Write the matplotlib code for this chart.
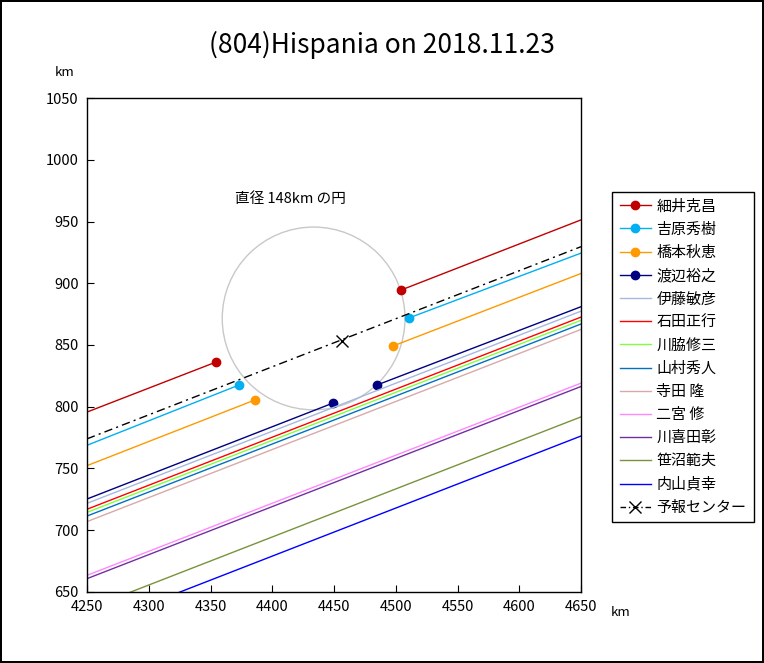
import numpy as np
import matplotlib
matplotlib.use('Agg')
import matplotlib.pyplot as plt
from matplotlib.lines import Line2D
from matplotlib.patches import Circle

plt.rcParams['font.family'] = ['Noto Sans CJK JP', 'DejaVu Sans']

# x range of the chord lines (km)
x_left, x_right = 4250, 4650

# observers with a chord: y at left/right edge, disappearance / reappearance points
chord_names = ['細井克昌', '吉原秀樹', '橋本秋恵', '渡辺裕之']
chord_colors = ['#C00000', '#00B0F0', '#FF9900', '#000080']
chord_y_left = [795.7, 768.8, 752.3, 725.3]
chord_y_right = [951.3, 924.4, 907.9, 881.0]
disap_x = [4354.5, 4373.1, 4386.0, 4449.2]
disap_y = [836.2, 817.6, 805.5, 803.0]
reap_x = [4504.3, 4510.7, 4497.8, 4484.8]
reap_y = [894.5, 871.9, 849.2, 817.6]

# observers with no occultation
miss_names = ['伊藤敏彦', '石田正行', '川脇修三', '山村秀人', '寺田 隆',
              '二宮 修', '川喜田彰', '笹沼範夫', '内山貞幸']
miss_colors = ['#A6B8E0', '#FF0000', '#80FF40', '#0070C0', '#D9A9A9',
               '#FF88FF', '#7030A0', '#77933C', '#0000FF']
miss_y_left = [721.8, 717.0, 714.5, 711.5, 707.0, 663.5, 660.8, 636.2, 620.7]
miss_y_right = [877.4, 872.6, 870.0, 867.0, 862.6, 819.1, 816.4, 791.8, 776.3]

# prediction center line and asteroid outline
center_y_left, center_y_right = 774.0, 929.6
center_x, center_y = 4456.5, 853.5
circle_x, circle_y, diameter = 4433.5, 871.5, 148


def main():
    fig = plt.figure(figsize=(7.64, 6.63), dpi=100)
    fig.patch.set_edgecolor('black')
    fig.patch.set_linewidth(1.5)
    ax = fig.add_axes([87/764, 1-592/663, 494/764, 494/663])

    ax.add_patch(Circle((circle_x, circle_y), diameter/2, fill=False,
                        ec='#C8C8C8', lw=1.0))
    ax.text(4415, 968, '直径 148km の円', ha='center', va='center', fontsize=10.5)

    handles = []
    for i in range(len(chord_names)):
        c = chord_colors[i]
        ax.plot([x_left, disap_x[i]], [chord_y_left[i], disap_y[i]], color=c, lw=1.0)
        ax.plot([reap_x[i], x_right], [reap_y[i], chord_y_right[i]], color=c, lw=1.0)
        ax.plot([disap_x[i], reap_x[i]], [disap_y[i], reap_y[i]], 'o', color=c, ms=6, mec=c)
        handles.append(Line2D([], [], color=c, lw=1.0, marker='o', ms=6, label=chord_names[i]))

    for i in range(len(miss_names)):
        c = miss_colors[i]
        ax.plot([x_left, x_right], [miss_y_left[i], miss_y_right[i]], color=c, lw=1.0)
        handles.append(Line2D([], [], color=c, lw=1.0, label=miss_names[i]))

    ax.plot([x_left, x_right], [center_y_left, center_y_right], color='black',
            lw=1.0, dashes=(6, 3, 1.5, 3))
    ax.plot([center_x], [center_y], 'x', color='black', ms=8, mew=1.0)
    handles.append(Line2D([], [], color='black', lw=1.0, dashes=(4, 2, 1, 2),
                          marker='x', ms=8, label='予報センター'))

    ax.set_xlim(4250, 4650)
    ax.set_ylim(650, 1050)
    ax.set_xticks(np.arange(4250, 4651, 50))
    ax.set_yticks(np.arange(650, 1051, 50))
    ax.tick_params(direction='in', length=5, labelsize=10.5, pad=6)
    for s in ax.spines.values():
        s.set_linewidth(1.0)

    fig.text(0.5, 1-45/663, '(804)Hispania on 2018.11.23', ha='center', va='center', fontsize=19)
    fig.text(65/764, 1-72/663, 'km', ha='center', va='center', fontsize=9.5)
    fig.text(621/764, 1-612/663, 'km', ha='center', va='center', fontsize=9.5)

    leg = fig.legend(handles=handles, loc='upper left', bbox_to_anchor=(612/764, 1-192/663),
                     bbox_transform=fig.transFigure, borderaxespad=0, fontsize=10.8,
                     fancybox=False, framealpha=1, edgecolor='black', handlelength=2.1,
                     labelspacing=0.6, handletextpad=0.35, borderpad=0.5)
    leg.get_frame().set_linewidth(1.0)

    fig.savefig('out.png', dpi=100)


if __name__ == '__main__':
    main()
